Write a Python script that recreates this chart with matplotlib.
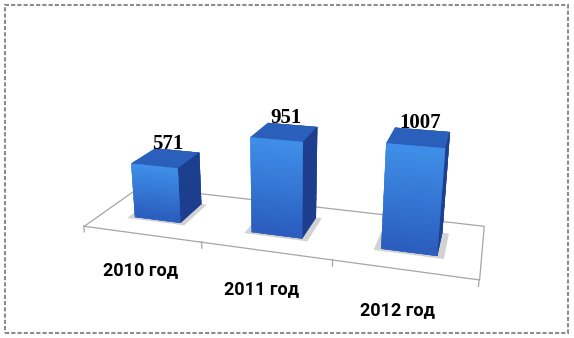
import matplotlib
matplotlib.use("Agg")
import matplotlib.pyplot as plt
from matplotlib.colors import to_rgb
from matplotlib.patches import Rectangle
from mpl_toolkits.mplot3d.art3d import Poly3DCollection
import numpy as np

categories = ["2010 год", "2011 год", "2012 год"]
values = [571, 951, 1007]

bar_w = 0.4      # share of a category slot
bar_d = 0.45     # share of the floor depth
bar_y = 0.3      # where the bars start, counted from the front of the floor
z_max = 1500
n_seg = 14       # slices per bar, for the vertical shading of the front face

front_top = np.array(to_rgb("#3f8fe8"))
front_bot = np.array(to_rgb("#2a5cbc"))
top_c = "#2a60bb"
side_c = "#1d3d8d"
grid_c = "#a6a6a6"

fig = plt.figure(figsize=(5.74, 3.38), dpi=100)
ax = fig.add_axes([27 / 574, -72 / 338, 500 / 574, 500 / 338], projection="3d")
ax.set_proj_type("persp", focal_length=0.26)
ax.view_init(elev=18, azim=-73)
ax.set_xlim(0, len(categories))
ax.set_ylim(0, 1)
ax.set_zlim(0, z_max)
ax.set_box_aspect((386, 118, 154), zoom=0.86)
ax.set_xticks([])
ax.set_yticks([])
ax.set_zticks([])
ax.set_axis_off()
ax.computed_zorder = False
for axis in (ax.xaxis, ax.yaxis, ax.zaxis):
    axis.label.set_visible(False)
    axis.offsetText.set_visible(False)
for t in (ax.title, ax._left_title, ax._right_title):
    t.set_visible(False)

n = len(categories)

# floor
floor = Poly3DCollection([[(0, 0, 0), (n, 0, 0), (n, 1, 0), (0, 1, 0)]],
                         facecolor="white", edgecolor=grid_c, linewidths=0.9)
floor.set_zorder(1)
ax.add_collection3d(floor)
for i in range(n + 1):
    ax.plot([i, i], [0, 0], [0, -65], color=grid_c, lw=0.9, zorder=1)

x0 = np.arange(n) + 0.5 - bar_w / 2

# soft shadows under the bars
pad = 0.05
shadows = Poly3DCollection(
    [[(x - pad, bar_y - pad * 0.8, 0), (x + bar_w + pad, bar_y - pad * 0.8, 0),
      (x + bar_w + pad, bar_y + bar_d, 0), (x - pad, bar_y + bar_d, 0)]
     for x in x0],
    facecolor="#d2d2d2", edgecolor="none")
shadows.set_zorder(1.5)
ax.add_collection3d(shadows)

# bars, cut in slices so the front face can go from light to dark
xs, ys, zs, dzs, colors = [], [], [], [], []
for i, v in enumerate(values):
    h = v / n_seg
    for k in range(n_seg):
        t = (k + 0.5) / n_seg
        fc = tuple(front_bot * (1 - t) + front_top * t)
        xs.append(x0[i])
        ys.append(bar_y)
        zs.append(k * h)
        dzs.append(h)
        top = top_c if k == n_seg - 1 else fc
        # bottom, top, front, back, left, right
        colors += [fc, top, fc, side_c, fc, side_c]
bars = ax.bar3d(xs, ys, zs, bar_w, bar_d, dzs,
                color=colors, shade=False, linewidth=0.3)
bars.set_edgecolor(colors)
bars.set_zorder(2)

for art in [floor, shadows, bars] + ax.lines:
    art.set_clip_on(False)

for i, v in enumerate(values):
    ax.text(i + 0.5, bar_y + bar_d * 0.6, v + 30, str(v), ha="center",
            va="bottom", fontsize=15, fontweight="bold",
            family="Liberation Serif", zorder=5)
    ax.text(i + 0.47, 0, -400, categories[i], ha="center", va="center",
            fontsize=13, fontweight="bold", family="Roboto", zorder=5)

fig.patches.append(Rectangle((5 / 574, 5.3 / 338), 562.7 / 574, 327.4 / 338,
                             transform=fig.transFigure, fill=False,
                             edgecolor="#8c8c8c", lw=1.5, ls=(0, (2, 1))))

fig.savefig("out.png", dpi=100)
